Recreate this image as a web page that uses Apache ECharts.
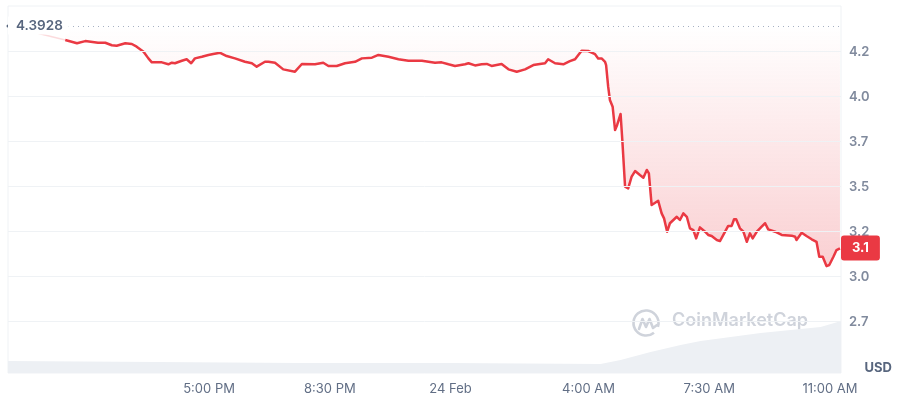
<!DOCTYPE html>
<html>
<head>
<meta charset="utf-8">
<script src="https://cdn.jsdelivr.net/npm/echarts@6/dist/echarts.min.js"></script>
<style>
html,body{margin:0;padding:0;background:#fff;}
#chart{width:900px;height:400px;}
</style>
</head>
<body>
<div id="chart"></div>
<script>
// hours relative to 00:00, 24 Feb
const priceTimes = [-11.17,-10.83,-10.59,-10.22,-10.01,-9.82,-9.68,-9.43,-9.24,-9.10,-8.90,-8.76,-8.66,-8.37,-8.18,-8.08,-7.99,-7.79,-7.65,-7.52,-7.41,-7.21,-7.02,-6.88,-6.68,-6.49,-6.25,-5.96,-5.76,-5.62,-5.38,-5.28,-5.09,-4.85,-4.51,-4.31,-3.93,-3.69,-3.54,-3.30,-3.06,-2.77,-2.57,-2.28,-2.09,-1.80,-1.51,-1.22,-0.83,-0.45,-0.26,-0.06,0.13,0.42,0.52,0.71,0.90,1.05,1.19,1.48,1.68,1.92,2.16,2.40,2.59,2.74,2.83,3.03,3.27,3.46,3.61,3.80,3.99,4.19,4.28,4.38,4.48,4.51,4.57,4.62,4.70,4.77,4.83,4.93,4.98,5.06,5.15,5.25,5.35,5.49,5.59,5.69,5.75,5.83,5.91,6.02,6.12,6.19,6.28,6.36,6.56,6.65,6.75,6.85,6.94,7.04,7.12,7.23,7.38,7.47,7.57,7.72,7.81,7.96,8.05,8.15,8.22,8.28,8.39,8.49,8.59,8.68,8.76,8.88,9.02,9.12,9.21,9.41,9.60,9.89,9.99,10.03,10.18,10.32,10.47,10.61,10.69,10.79,10.90,10.98,11.10,11.19,11.29];
const priceValues = [4.315,4.297,4.309,4.300,4.300,4.286,4.283,4.297,4.293,4.278,4.250,4.213,4.191,4.191,4.180,4.189,4.186,4.200,4.208,4.186,4.213,4.222,4.232,4.237,4.244,4.226,4.213,4.194,4.186,4.167,4.194,4.194,4.189,4.152,4.139,4.182,4.180,4.189,4.171,4.171,4.186,4.194,4.213,4.217,4.232,4.222,4.208,4.200,4.200,4.189,4.191,4.180,4.171,4.180,4.186,4.174,4.180,4.182,4.171,4.182,4.152,4.139,4.152,4.176,4.182,4.186,4.208,4.186,4.180,4.198,4.208,4.256,4.254,4.236,4.213,4.213,4.194,4.176,4.056,3.982,3.944,3.815,3.843,3.904,3.759,3.500,3.491,3.556,3.587,3.565,3.550,3.593,3.574,3.398,3.408,3.422,3.352,3.324,3.250,3.297,3.333,3.315,3.352,3.333,3.269,3.259,3.213,3.274,3.250,3.232,3.226,3.204,3.198,3.250,3.282,3.282,3.319,3.319,3.269,3.250,3.194,3.241,3.213,3.250,3.278,3.297,3.263,3.250,3.232,3.228,3.222,3.204,3.244,3.226,3.208,3.194,3.111,3.111,3.059,3.065,3.111,3.148,3.158];
const openTime = -12.83;
const openPrice = 4.3928;
const volumeTimes = [-12.83,-8.5,-4.4,0,4.35,4.93,5.80,6.67,7.25,8.12,8.99,9.86,10.73,11.32];
const volumeValues = [20,18.3,16.7,16.7,15,21.7,35,46.7,53.3,60,66.7,71.7,76.7,86.7];
const yTickValues = [4.25,4.0,3.75,3.5,3.25,3.0,2.75];
const xTickValues = [-7,-3.5,0,4,7.5,11];
const xTickLabels = ['5:00 PM','8:30 PM','24 Feb','4:00 AM','7:30 AM','11:00 AM'];
const currency = 'USD';

const trunc1 = v => (Math.floor(v * 10 + 1e-9) / 10).toFixed(1);
const RED = '#ea3943';
const FONT = 'Inter, "Noto Sans", sans-serif';
const xMin = -12.83, xMax = 11.32, yMin = 2.465, yMax = 4.504;

const priceData = priceTimes.map((t, i) => [t, priceValues[i]]);
const volumeData = volumeTimes.map((t, i) => [t, volumeValues[i]]);
const lastPrice = priceValues[priceValues.length - 1];

const chart = echarts.init(document.getElementById('chart'), null, {renderer: 'canvas'});
chart.setOption({
  animation: false,
  textStyle: {fontFamily: FONT},
  grid: [
    {left: 8, right: 59, top: 6, bottom: 27, show: true, borderColor: '#eff2f5', borderWidth: 1, backgroundColor: 'transparent'},
    {left: 8, right: 59, bottom: 27, height: 60}
  ],
  xAxis: [
    {type: 'value', gridIndex: 0, min: xMin, max: xMax,
     axisLine: {show: false}, axisTick: {show: false}, splitLine: {show: false},
     axisLabel: {customValues: xTickValues, margin: 10, fontSize: 13, color: '#616e85', fontFamily: FONT,
       formatter: v => { const i = xTickValues.findIndex(x => Math.abs(x - v) < 1e-6); return i >= 0 ? xTickLabels[i] : ''; }}},
    {type: 'value', gridIndex: 1, min: xMin, max: xMax, show: false}
  ],
  yAxis: [
    {type: 'value', gridIndex: 0, position: 'right', min: yMin, max: yMax,
     axisLine: {show: false}, axisTick: {show: false}, splitLine: {show: false},
     axisLabel: {customValues: yTickValues, margin: 8, fontSize: 13, fontWeight: 600, color: '#808a9d', fontFamily: FONT,
       formatter: v => trunc1(v)}},
    {type: 'value', gridIndex: 1, min: 0, max: 100, show: false}
  ],
  graphic: [
    {type: 'text', right: 8, top: 362, z: 10, style: {text: currency, font: 'bold 13px ' + FONT, fill: '#58667e'}},
    {type: 'group', left: 631, top: 308, z: 0, children: [
      {type: 'arc', shape: {cx: 14, cy: 14, r: 12.5, startAngle: Math.PI * 0.28, endAngle: Math.PI * 2.1, clockwise: true},
       style: {stroke: '#cfd3db', lineWidth: 2.6, fill: null}},
      {type: 'polyline', shape: {points: [[7, 20], [10.5, 10], [14, 18], [17.5, 10], [21, 19], [25, 16]]},
       style: {stroke: '#cfd3db', lineWidth: 2.6, fill: null, lineJoin: 'round', lineCap: 'round'}}
    ]},
    {type: 'text', left: 672, top: 312, z: 0, style: {text: 'CoinMarketCap', font: '600 18px ' + FONT, fill: '#cfd3db'}}
  ],
  series: [
    {type: 'line', xAxisIndex: 1, yAxisIndex: 1, data: volumeData, symbol: 'none', silent: true, z: 1,
     lineStyle: {width: 0}, areaStyle: {color: '#edf0f4', opacity: 1}},
    {type: 'line', xAxisIndex: 0, yAxisIndex: 0, symbol: 'none', silent: true, z: 2,
     data: [{value: [openTime, openPrice], symbol: 'circle', symbolSize: 3, itemStyle: {color: '#58667e'}}, priceData[0]],
     showSymbol: true,
     lineStyle: {color: 'rgba(234,57,67,0.18)', width: 1.5}},
    {type: 'line', xAxisIndex: 0, yAxisIndex: 0, data: priceData, symbol: 'none', z: 3,
     lineStyle: {color: RED, width: 2.5, join: 'round'},
     areaStyle: {origin: openPrice,
       color: new echarts.graphic.LinearGradient(0, 0, 0, 1, [
         {offset: 0, color: 'rgba(234,57,67,0.0)'},
         {offset: 1, color: 'rgba(234,57,67,0.34)'}
       ])},
     markLine: {silent: true, symbol: 'none', animation: false,
       data: [
         ...yTickValues.map(v => ({yAxis: v, lineStyle: {color: '#eff2f5', width: 1, type: 'solid'}, label: {show: false}})),
         {yAxis: openPrice, lineStyle: {color: '#a6b0c3', width: 1, type: [1, 4]},
          label: {show: true, position: 'insideStartTop', formatter: String(openPrice), distance: 0, offset: [0, 8],
            fontSize: 13.5, fontWeight: 600, color: '#58667e', backgroundColor: '#fff', padding: [2, 6, 2, 8], fontFamily: FONT}},
         {yAxis: lastPrice, lineStyle: {color: 'rgba(0,0,0,0)', width: 0},
          label: {show: true, position: 'end', distance: 0, formatter: trunc1(lastPrice),
            color: '#fff', backgroundColor: RED, fontSize: 13, fontWeight: 'bold', padding: [6, 11, 6, 11], borderRadius: 3, fontFamily: FONT}}
       ]}}
  ]
});
</script>
</body>
</html>
